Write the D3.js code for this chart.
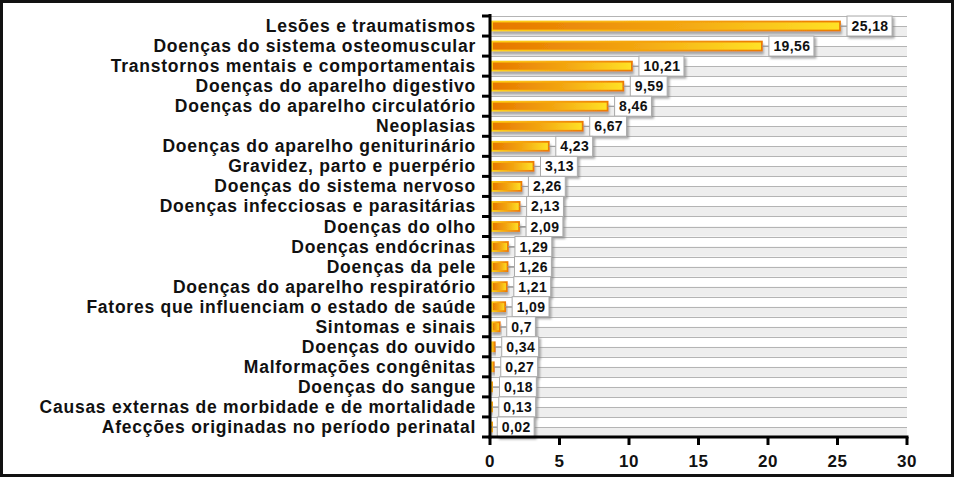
<!DOCTYPE html>
<html>
<head>
<meta charset="utf-8">
<script src="https://cdn.jsdelivr.net/npm/d3@7"></script>
<style>
  body { margin: 0; background: #fff; }
  svg { display: block; font-family: "Liberation Sans", Arial, sans-serif; }
</style>
</head>
<body>
<div id="chart"></div>
<script>
// causas de afastamento (%)
const categories = [
  'Lesões e traumatismos',
  'Doenças do sistema osteomuscular',
  'Transtornos mentais e comportamentais',
  'Doenças do aparelho digestivo',
  'Doenças do aparelho circulatório',
  'Neoplasias',
  'Doenças do aparelho geniturinário',
  'Gravidez, parto e puerpério',
  'Doenças do sistema nervoso',
  'Doenças infecciosas e parasitárias',
  'Doenças do olho',
  'Doenças endócrinas',
  'Doenças da pele',
  'Doenças do aparelho respiratório',
  'Fatores que influenciam o estado de saúde',
  'Sintomas e sinais',
  'Doenças do ouvido',
  'Malformações congênitas',
  'Doenças do sangue',
  'Causas externas de morbidade e de mortalidade',
  'Afecções originadas no período perinatal'
];
const values = [25.18, 19.56, 10.21, 9.59, 8.46, 6.67, 4.23, 3.13, 2.26, 2.13, 2.09,
  1.29, 1.26, 1.21, 1.09, 0.7, 0.34, 0.27, 0.18, 0.13, 0.02];
const xTicks = [0, 5, 10, 15, 20, 25, 30];

const W = 956, H = 478;
const svg = d3.select('#chart').append('svg')
    .attr('width', W)
    .attr('height', H);

const defs = svg.append('defs');
const grad = defs.append('linearGradient').attr('id', 'barGrad')
    .attr('x1', '0%').attr('x2', '100%').attr('y1', '0%').attr('y2', '0%');
grad.append('stop').attr('offset', '0%').attr('stop-color', '#e67600');
grad.append('stop').attr('offset', '55%').attr('stop-color', '#f3a812');
grad.append('stop').attr('offset', '100%').attr('stop-color', '#ffe226');

const sgrad = defs.append('linearGradient').attr('id', 'strokeGrad')
    .attr('x1', '0%').attr('x2', '100%').attr('y1', '0%').attr('y2', '0%');
sgrad.append('stop').attr('offset', '0%').attr('stop-color', '#ffd21a');
sgrad.append('stop').attr('offset', '100%').attr('stop-color', '#ec7c04');

const shadow = defs.append('filter').attr('id', 'shadow')
    .attr('x', '-10%').attr('y', '-50%').attr('width', '130%').attr('height', '250%');
shadow.append('feDropShadow').attr('dx', 1).attr('dy', 3).attr('stdDeviation', 1.3)
    .attr('flood-color', '#777').attr('flood-opacity', 0.6);

const boxShadow = defs.append('filter').attr('id', 'boxShadow')
    .attr('x', '-20%').attr('y', '-30%').attr('width', '150%').attr('height', '170%');
boxShadow.append('feDropShadow').attr('dx', 2).attr('dy', 2).attr('stdDeviation', 1.2)
    .attr('flood-color', '#888').attr('flood-opacity', 0.7);

// frame
svg.append('rect')
    .attr('x', 1.5).attr('y', 1.5)
    .attr('width', 951).attr('height', 474)
    .attr('fill', '#fff')
    .attr('stroke', '#111')
    .attr('stroke-width', 3);

const x = d3.scaleLinear().domain([0, 30]).range([490, 907]);
const y = d3.scaleBand().domain(categories).range([16, 437]).padding(0);
const half = y.bandwidth() / 2;

// background stripes
const plot = svg.append('g');
plot.selectAll('rect.bandLo').data(categories)
    .join('rect')
    .attr('class', 'bandLo')
    .attr('x', x(0)).attr('width', x(30) - x(0))
    .attr('y', d => y(d) + half).attr('height', half)
    .attr('fill', '#eeeeee');

const gridYs = [];
categories.forEach(c => { gridYs.push(y(c)); gridYs.push(y(c) + half); });
plot.selectAll('line.grid').data(gridYs)
    .join('line')
    .attr('class', 'grid')
    .attr('x1', x(0)).attr('x2', x(30))
    .attr('y1', d => Math.round(d) + 0.5).attr('y2', d => Math.round(d) + 0.5)
    .attr('stroke', '#b4b4b4')
    .attr('stroke-width', 1);

// bars
const rows = categories.map((c, i) => ({ c, v: values[i] }));
plot.selectAll('rect.bar').data(rows)
    .join('rect')
    .attr('class', 'bar')
    .attr('x', x(0) + 2)
    .attr('y', d => y(d.c) + half - 4.5)
    .attr('width', d => Math.max(0.8, x(d.v) - x(0) - 2))
    .attr('height', 9)
    .attr('fill', 'url(#barGrad)')
    .attr('stroke', 'url(#strokeGrad)')
    .attr('stroke-width', 1.8)
    .attr('filter', 'url(#shadow)');

// value labels
const fmt = v => String(v).replace('.', ',');
const lab = plot.selectAll('g.lab').data(rows)
    .join('g')
    .attr('class', 'lab');
lab.append('line')
    .attr('x1', d => x(d.v)).attr('x2', d => x(d.v) + 7)
    .attr('y1', d => y(d.c) + half).attr('y2', d => y(d.c) + half)
    .attr('stroke', '#999');
const boxes = lab.append('rect')
    .attr('fill', '#fff')
    .attr('stroke', '#aaa')
    .attr('stroke-width', 1)
    .attr('filter', 'url(#boxShadow)');
const labTexts = lab.append('text')
    .attr('y', d => y(d.c) + half + 5)
    .attr('font-size', 14)
    .attr('font-weight', 'bold')
    .attr('letter-spacing', 0.4)
    .attr('fill', '#111')
    .text(d => fmt(d.v));
labTexts.each(function (d) {
    const w = this.getComputedTextLength();
    const bx = x(d.v) + 7;
    d.bw = w + 8;
    d3.select(this).attr('x', bx + 4.5);
    d.bx = bx;
});
boxes.attr('x', d => d.bx)
    .attr('y', d => y(d.c) + half - 10)
    .attr('width', d => d.bw)
    .attr('height', 20);

// y axis
svg.append('g').selectAll('line').data(categories.concat(['__end']))
    .join('line')
    .attr('x1', 482).attr('x2', x(0))
    .attr('y1', d => d === '__end' ? 437 : y(d))
    .attr('y2', d => d === '__end' ? 437 : y(d))
    .attr('stroke', '#000').attr('stroke-width', 3);
svg.append('line')
    .attr('x1', x(0)).attr('x2', x(0))
    .attr('y1', 14).attr('y2', 438.5)
    .attr('stroke', '#000').attr('stroke-width', 3);

svg.append('g').selectAll('text').data(categories)
    .join('text')
    .attr('x', 476)
    .attr('y', d => y(d) + half + 6)
    .attr('text-anchor', 'end')
    .attr('font-size', 17.5)
    .attr('font-weight', 'bold')
    .attr('letter-spacing', 0.75)
    .attr('fill', '#111')
    .text(d => d);

// x axis
svg.append('line')
    .attr('x1', x(0) - 1.5).attr('x2', x(30) + 1.5)
    .attr('y1', 437).attr('y2', 437)
    .attr('stroke', '#000').attr('stroke-width', 3);
const xt = svg.append('g').selectAll('g').data(xTicks).join('g');
xt.append('line')
    .attr('x1', d => x(d)).attr('x2', d => x(d))
    .attr('y1', 437).attr('y2', 445)
    .attr('stroke', '#000').attr('stroke-width', 3);
xt.append('text')
    .attr('x', d => x(d))
    .attr('y', 467)
    .attr('text-anchor', 'middle')
    .attr('font-size', 17)
    .attr('font-weight', 'bold')
    .attr('letter-spacing', 0.5)
    .attr('fill', '#111')
    .text(d => d);
</script>
</body>
</html>
